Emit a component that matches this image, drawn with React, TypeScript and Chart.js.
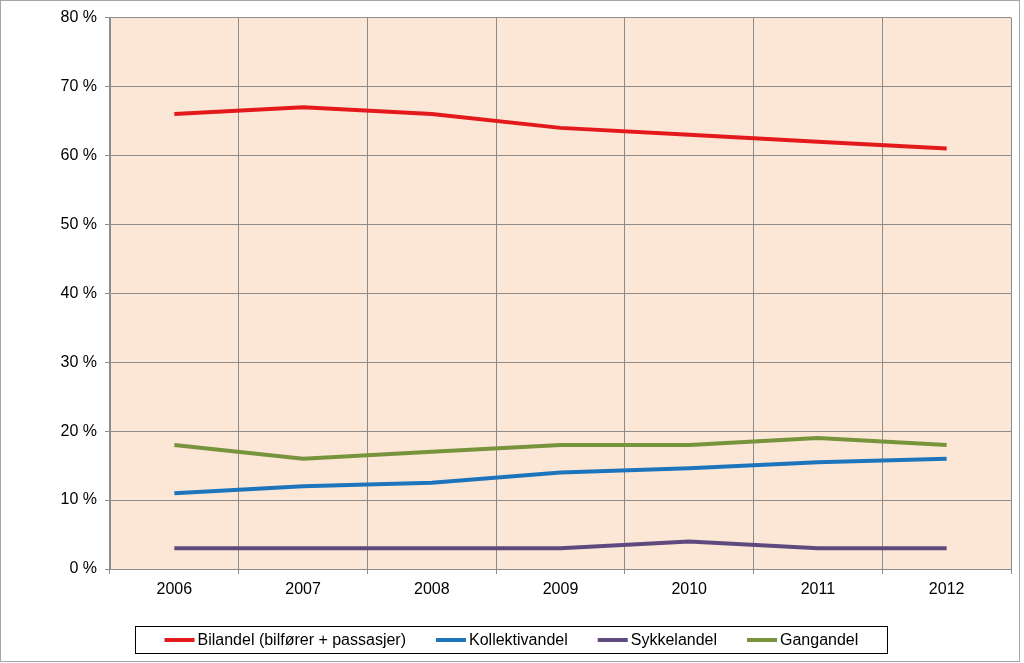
import React, { useEffect, useRef } from "react";
import { Chart, registerables } from "chart.js";

Chart.register(...registerables);

const years = ["2006", "2007", "2008", "2009", "2010", "2011", "2012"];
const bilandel = [66, 67, 66, 64, 63, 62, 61];
const kollektivandel = [11, 12, 12.5, 14, 14.6, 15.5, 16];
const sykkelandel = [3, 3, 3, 3, 4, 3, 3];
const gangandel = [18, 16, 17, 18, 18, 19, 18];
const seriesNames = ["Bilandel (bilfører + passasjer)", "Kollektivandel", "Sykkelandel", "Gangandel"];
const seriesColors = ["#E3191C", "#1C75BC", "#5F4A80", "#77933C"];
const yMin = 0;
const yMax = 80;
const yStep = 10;

const FONT = "Arial, 'Liberation Sans', sans-serif";

const framePlugin = {
  id: "frame",
  beforeDraw(chart: any) {
    const { ctx, chartArea, width, height } = chart;
    ctx.save();
    ctx.fillStyle = "#ffffff";
    ctx.fillRect(0, 0, width, height);
    ctx.strokeStyle = "#a6a6a6";
    ctx.lineWidth = 1;
    ctx.strokeRect(0.5, 0.5, 1019, 661);
    ctx.fillStyle = "#FCE6D6";
    ctx.fillRect(chartArea.left, chartArea.top, chartArea.right - chartArea.left, chartArea.bottom - chartArea.top);
    ctx.restore();
  },
  afterDraw(chart: any) {
    const { ctx } = chart;
    ctx.save();
    ctx.font = `16px ${FONT}`;
    ctx.textBaseline = "middle";
    const sample = 30;
    const gapText = 3;
    const gapItem = 30;
    const pad = 29;
    const widths = seriesNames.map((n) => ctx.measureText(n).width);
    const content = widths.reduce((a, w) => a + sample + gapText + w, 0) + gapItem * (seriesNames.length - 1);
    const boxW = content + pad * 2;
    const cx = 511;
    const boxL = Math.round(cx - boxW / 2) + 0.5;
    const boxT = 626.5;
    const boxH = 27;
    ctx.strokeStyle = "#000000";
    ctx.lineWidth = 1;
    ctx.strokeRect(boxL, boxT, Math.round(boxW), boxH);
    let x = boxL + pad;
    const y = boxT + boxH / 2;
    seriesNames.forEach((n, i) => {
      ctx.strokeStyle = seriesColors[i];
      ctx.lineWidth = 4;
      ctx.beginPath();
      ctx.moveTo(x, y);
      ctx.lineTo(x + sample, y);
      ctx.stroke();
      ctx.fillStyle = "#000000";
      ctx.fillText(n, x + sample + gapText, y + 1);
      x += sample + gapText + widths[i] + gapItem;
    });
    ctx.restore();
  },
};

export default function App() {
  const ref = useRef<HTMLCanvasElement>(null);
  useEffect(() => {
    const seriesData = [bilandel, kollektivandel, sykkelandel, gangandel];
    const chart = new Chart(ref.current!, {
      type: "line",
      data: {
        labels: years,
        datasets: seriesData.map((d, i) => ({
          label: seriesNames[i],
          data: d,
          borderColor: seriesColors[i],
          backgroundColor: seriesColors[i],
          borderWidth: 4,
          pointRadius: 0,
          tension: 0,
          fill: false,
        })),
      },
      options: {
        animation: false,
        responsive: false,
        layout: { padding: { left: 0, right: 13, top: 16, bottom: 54 } },
        plugins: {
          legend: { display: false },
          tooltip: { enabled: false },
        },
        scales: {
          x: {
            offset: true,
            grid: { offset: true, color: "#8c8c8c", tickLength: 5, drawTicks: true },
            border: { color: "#8c8c8c" },
            ticks: { color: "#000", font: { size: 16, family: FONT }, padding: 6, maxRotation: 0 },
            afterFit: (s: any) => {
              s.height = 40;
            },
          },
          y: {
            min: yMin,
            max: yMax,
            grid: { color: "#8c8c8c", tickLength: 5 },
            border: { color: "#8c8c8c" },
            ticks: {
              stepSize: yStep,
              color: "#000",
              font: { size: 16, family: FONT },
              padding: 8,
              callback: (v: any) => `${v} %`,
            },
            afterFit: (s: any) => {
              s.width = 110;
            },
          },
        },
      },
      plugins: [framePlugin],
    });
    return () => chart.destroy();
  }, []);
  return (
    <div style={{ position: "absolute", left: 0, top: 0, width: 1024, height: 663 }}>
      <canvas ref={ref} width={1024} height={663} style={{ display: "block" }} />
    </div>
  );
}
